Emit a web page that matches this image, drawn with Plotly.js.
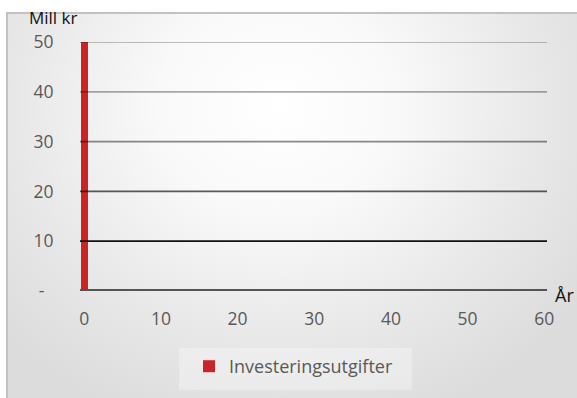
<!DOCTYPE html>
<html>
<head>
<meta charset="utf-8">
<script src="https://cdn.plot.ly/plotly-3.0.1.min.js"></script>
<style>
  html, body { margin: 0; padding: 0; background: #ffffff; }
  #wrap { position: relative; width: 577px; height: 398px; overflow: hidden; background: #ffffff; }
  #frame {
    position: absolute; left: 6px; top: 12px; width: 600px; height: 420px;
    border-left: 2px solid #c2c2c2; border-top: 2px solid #c2c2c2;
    background: radial-gradient(ellipse 62% 80% at 45% 22%, #ffffff 0%, #f9f9f9 32%, #e8e8e8 70%, #dcdcdc 100%);
  }
  #chart { position: absolute; left: 0; top: 0; width: 577px; height: 398px; }
</style>
</head>
<body>
<div id="wrap">
  <div id="frame"></div>
  <div id="chart"></div>
</div>
<script>
// Investment outlay by year (million NOK)
const years = [0];
const investeringsutgifter = [50];
const seriesName = 'Investeringsutgifter';

// Axis ticks
const xTicks = [0, 10, 20, 30, 40, 50, 60];
const yTicks = [0, 10, 20, 30, 40, 50];
const yTickText = ['-\u00a0\u00a0', '10', '20', '30', '40', '50'];
// Gridline darkness per level (fades toward the top)
const gridAlpha = [0, 0.93, 0.64, 0.46, 0.33, 0.24];

const font = 'Open Sans, Noto Sans, sans-serif';

const shapes = yTicks.slice(1).map((v, i) => ({
  type: 'line', xref: 'paper', yref: 'y', x0: 0, x1: 1, y0: v, y1: v,
  layer: 'above',
  line: { color: 'rgba(0,0,0,' + gridAlpha[i + 1] + ')', width: 1.8 }
}));

// Heavy baseline at zero
shapes.push({
  type: 'line', xref: 'paper', yref: 'y', x0: 0, x1: 1, y0: 0, y1: 0,
  layer: 'above', line: { color: '#545454', width: 4 }
});

// Light panel behind the legend
shapes.push({
  type: 'rect', xref: 'paper', yref: 'paper',
  x0: 0.212, x1: 0.711, y0: -0.229, y1: -0.398,
  layer: 'below', line: { width: 0 }, fillcolor: 'rgba(255,255,255,0.3)'
});

const trace = {
  type: 'bar',
  x: years,
  y: investeringsutgifter,
  name: seriesName,
  width: 0.92,
  marker: { color: '#CB2426', line: { width: 0 } },
  showlegend: true,
  hoverinfo: 'x+y'
};

const layout = {
  width: 577,
  height: 398,
  margin: { l: 80, r: 30, t: 42, b: 107 },
  paper_bgcolor: 'rgba(0,0,0,0)',
  plot_bgcolor: 'rgba(0,0,0,0)',
  font: { family: font, size: 17.5, color: '#595959' },
  xaxis: {
    range: [-0.55, 60.36],
    tickvals: xTicks,
    ticktext: xTicks.map(String),
    showgrid: false,
    zeroline: false,
    showline: false,
    ticks: 'outside', ticklen: 12, tickcolor: 'rgba(0,0,0,0)',
    automargin: false,
    fixedrange: true
  },
  yaxis: {
    range: [0, 50],
    tickvals: yTicks,
    ticktext: yTickText,
    showgrid: false,
    zeroline: false,
    showline: false,
    ticks: 'outside', ticklen: 22, tickcolor: 'rgba(0,0,0,0)',
    automargin: false,
    fixedrange: true
  },
  shapes: shapes,
  annotations: [
    {
      text: 'Mill kr', xref: 'paper', yref: 'paper',
      x: -0.1135, y: 1.098, xanchor: 'left', yanchor: 'middle',
      showarrow: false, font: { family: font, size: 17, color: '#111111' }
    },
    {
      text: 'År', xref: 'paper', yref: 'paper',
      x: 1.012, y: -0.018, xanchor: 'left', yanchor: 'middle',
      showarrow: false, font: { family: font, size: 18, color: '#111111' }
    }
  ],
  showlegend: true,
  legend: {
    orientation: 'h',
    x: 0.2334, y: -0.229, xanchor: 'left', yanchor: 'top',
    bgcolor: 'rgba(0,0,0,0)',
    borderwidth: 0,
    font: { family: font, size: 18, color: '#595959' }
  },
  bargap: 0
};

Plotly.newPlot('chart', [trace], layout, { displayModeBar: false, staticPlot: true });
</script>
</body>
</html>
